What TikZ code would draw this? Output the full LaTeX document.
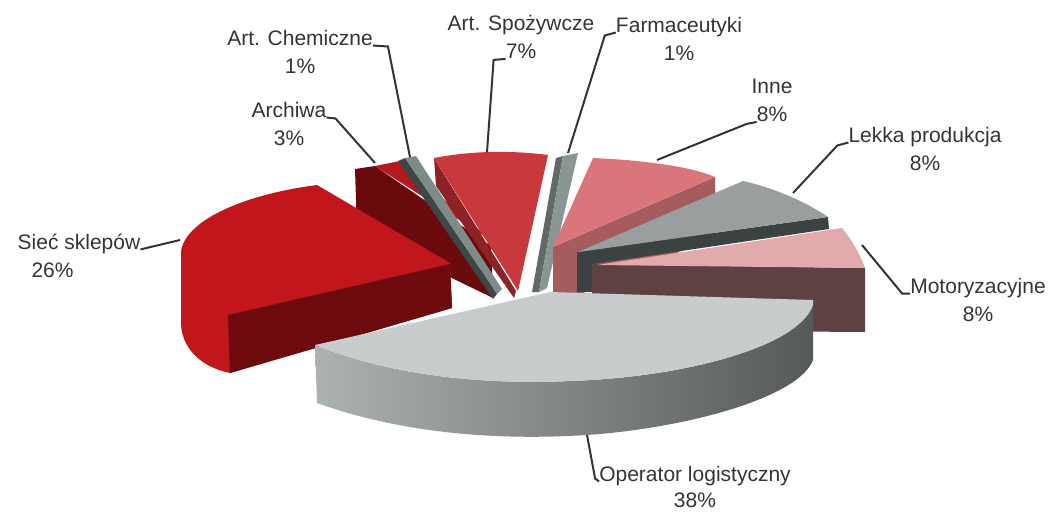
\documentclass[tikz,border=0pt]{standalone}
\usepackage{fontspec}
\setmainfont{Liberation Sans}
\usepackage{tikz}
\usetikzlibrary{positioning}
\definecolor{labelGray}{RGB}{52,52,52}
\definecolor{siecTop}{RGB}{193,22,27}
\definecolor{siecSide}{RGB}{108,10,13}
\definecolor{archTop}{RGB}{181,24,30}
\definecolor{archSide}{RGB}{106,10,13}
\definecolor{chemTop}{RGB}{125,139,137}
\definecolor{chemSide}{RGB}{60,71,70}
\definecolor{spozTop}{RGB}{201,56,61}
\definecolor{spozSide}{RGB}{141,34,38}
\definecolor{farmTop}{RGB}{138,150,148}
\definecolor{farmSide}{RGB}{95,106,105}
\definecolor{inneTop}{RGB}{217,118,123}
\definecolor{inneSide}{RGB}{166,91,94}
\definecolor{lekkaTop}{RGB}{155,158,158}
\definecolor{lekkaSide}{RGB}{59,67,66}
\definecolor{motoTop}{RGB}{225,170,173}
\definecolor{motoSide}{RGB}{94,65,66}
\definecolor{operTop}{RGB}{200,204,204}
\definecolor{operLight}{RGB}{172,177,177}
\definecolor{operMid}{RGB}{142,146,146}
\definecolor{operDark}{RGB}{86,89,90}

\begin{document}
\begin{tikzpicture}[x=1pt, y=-1pt,
  lbl/.style={font=\fontsize{21}{25}\selectfont, text=labelGray, inner sep=0pt,
    text height=16pt, text depth=5pt},
  leader/.style={draw=labelGray, line width=2pt}]
  \useasboundingbox (0,0) rectangle (1054,515);

  % back slices first
  % Archiwa (3%)
  \fill[archSide] (355,169) -- (375,166) -- (491,246) -- (493,298) -- (357,232) -- cycle;
  \fill[archTop] (375,166) -- (400,161) -- (492,241) -- cycle;
  % Art. Chemiczne (1%)
  \fill[chemSide] (398,161) -- (405,158) -- (497,294) -- (493,299) -- cycle;
  \fill[chemTop] (405,158) -- (416,156) -- (502,289) -- (497,294) -- cycle;
  % Art. Spozywcze (7%)
  \fill[spozSide] (434,158) -- (516,291) -- (514,298) -- (436,186) -- cycle;
  \fill[spozTop] (434,158) .. controls (470,151) and (510,150) .. (548,155) -- (518,291) -- cycle;
  % Farmaceutyki (1%)
  \fill[farmSide] (556,158) -- (563,156) -- (539,292) -- (532,292) -- cycle;
  \fill[farmTop] (563,156) -- (578,153) -- (547,288) -- (539,292) -- cycle;
  % Inne (8%)
  \fill[inneSide] (553,247) -- (715,177) -- (716,236) -- (553,306) -- cycle;
  \fill[inneTop] (593,158) .. controls (640,160) and (690,166) .. (715,177) -- (553,247) -- cycle;
  % Lekka produkcja (8%)
  \fill[lekkaSide] (577,252) -- (828,217) -- (829,229) -- (594,264) -- (594,292) -- (577,292) -- cycle;
  \fill[lekkaTop] (743,181) .. controls (775,188) and (808,203) .. (828,217) -- (578,252) -- cycle;
  % Motoryzacyjne (8%)
  \fill[motoSide] (592,264) -- (865,268) -- (865,332) -- (592,330) -- cycle;
  \fill[motoTop] (597,265) -- (842,228) .. controls (852,240) and (860,254) .. (865,268) -- cycle;

  % Siec sklepow (26%)
  \fill[siecTop] (317,185) -- (450,263) -- (452,308) -- (230,373)
    .. controls (205,368) and (183,352) .. (181,325) -- (181,252)
    .. controls (184,222) and (240,195) .. (317,185) -- cycle;
  \fill[siecSide] (228,315) -- (450,264) -- (452,308) -- (230,373) -- cycle;

  % Operator logistyczny (38%), front slice
  \shade[left color=operLight, middle color=operMid, right color=operDark]
    (315,345) .. controls (390,375) and (480,385) .. (570,381)
    .. controls (690,377) and (800,345) .. (813,305) -- (813,360)
    .. controls (800,395) and (700,425) .. (600,434)
    .. controls (500,442) and (400,433) .. (317,403) -- cycle;
  \fill[operTop] (315,345) -- (550,292) -- (813,300) -- (813,305)
    .. controls (800,345) and (690,377) .. (570,381)
    .. controls (480,385) and (390,375) .. (315,345) -- cycle;

  % leader ends on the slices
  \coordinate (pSiec) at (180,240);
  \coordinate (pArch) at (375,163);
  \coordinate (pChem) at (410,157);
  \coordinate (pSpoz) at (487,152);
  \coordinate (pFarm) at (568,153);
  \coordinate (pInne) at (657,160);
  \coordinate (pLekka) at (793,193);
  \coordinate (pMoto) at (862,245);
  \coordinate (pOper) at (587,435);

  % Labels
  \node[lbl] (tSiec) at (79,244) {Sieć sklepów};
  \node[lbl, below=7pt of tSiec.south west, xshift=35pt] (vSiec) {26\%};
  \node[lbl] (tArch) at (289,112) {Archiwa};
  \node[lbl, below=7pt of tArch] (vArch) {3\%};
  \node[lbl] (tChem) at (300,40) {Art. Chemiczne};
  \node[lbl, below=7pt of tChem] (vChem) {1\%};
  \node[lbl] (tSpoz) at (521,25) {Art. Spożywcze};
  \node[lbl, below=7pt of tSpoz] (vSpoz) {7\%};
  \node[lbl] (tFarm) at (679,27) {Farmaceutyki};
  \node[lbl, below=7pt of tFarm] (vFarm) {1\%};
  \node[lbl] (tInne) at (772,88) {Inne};
  \node[lbl, below=7pt of tInne] (vInne) {8\%};
  \node[lbl] (tLekka) at (925,137) {Lekka produkcja};
  \node[lbl, below=7pt of tLekka] (vLekka) {8\%};
  \node[lbl] (tMoto) at (978,288) {Motoryzacyjne};
  \node[lbl, below=7pt of tMoto] (vMoto) {8\%};
  \node[lbl] (tOper) at (695,476) {Operator logistyczny};
  \node[lbl, below=5pt of tOper] (vOper) {38\%};

  % leader lines
  \draw[leader] (tSiec.base east) -- ++(8,-2) -- (pSiec);
  \draw[leader] (tArch.base east) -- ++(9,1) -- (pArch);
  \draw[leader] (tChem.base east) -- ++(15,1) -- (pChem);
  \draw[leader] (vSpoz.base west) -- ++(-12,1) -- (pSpoz);
  \draw[leader] (tFarm.base west) -- ++(-11,3) -- (pFarm);
  \draw[leader] (vInne.base west) -- ++(-10,2) -- (pInne);
  \draw[leader] (tLekka.base west) -- ++(-11,3) -- (pLekka);
  \draw[leader] (tMoto.base west) -- ++(-8,0) -- (pMoto);
  \draw[leader] (tOper.base west) -- ++(-4,-3) -- (pOper);
\end{tikzpicture}
\end{document}
